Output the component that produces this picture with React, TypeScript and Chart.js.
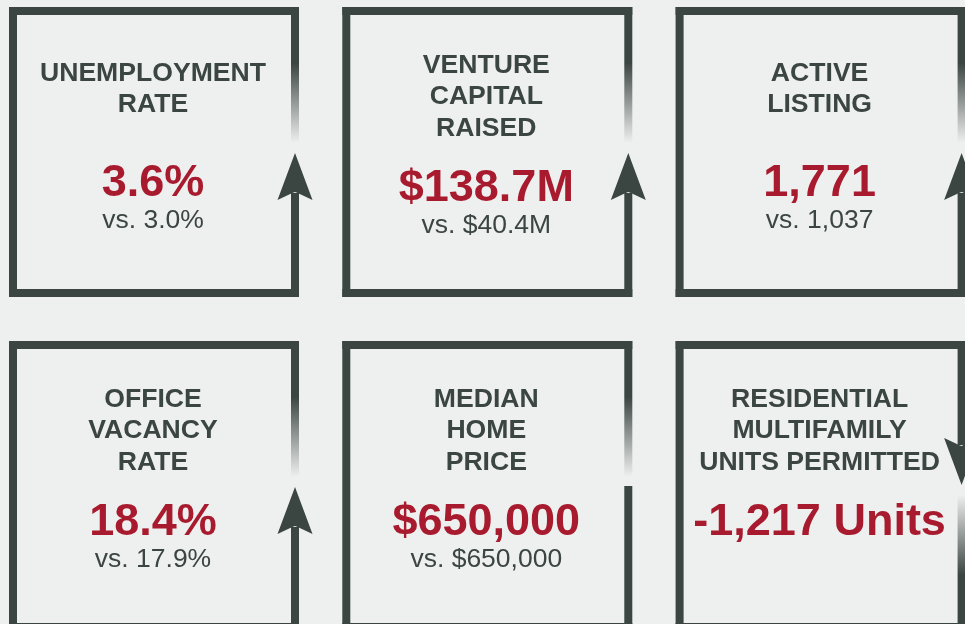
import React, { useEffect, useRef } from "react";
import { Chart, registerables } from "chart.js";

Chart.register(...registerables);

// ---- data ----
const kpiTitles: string[][] = [
  ["UNEMPLOYMENT", "RATE"],
  ["VENTURE", "CAPITAL", "RAISED"],
  ["ACTIVE", "LISTING"],
  ["OFFICE", "VACANCY", "RATE"],
  ["MEDIAN", "HOME", "PRICE"],
  ["RESIDENTIAL", "MULTIFAMILY", "UNITS PERMITTED"],
];
const currentValues: string[] = ["3.6%", "$138.7M", "1,771", "18.4%", "$650,000", "-1,217 Units"];
const priorValues: (string | null)[] = ["3.0%", "$40.4M", "1,037", "17.9%", "$650,000", null];
const trends: string[] = ["up", "up", "up", "up", "flat", "down"];
const gridCols: number[] = [0, 1, 2, 0, 1, 2];
const gridRows: number[] = [0, 0, 0, 1, 1, 1];

const BG = "#eef0ef";
const DARK = "rgb(59,69,66)";
const DARK0 = "rgba(59,69,66,0)";
const RED = "rgb(168,27,46)";
const FONT = '"Liberation Sans", Arial, Helvetica, sans-serif';

const cardPlugin = {
  id: "kpiCards",
  beforeDraw(chart: any) {
    const { ctx, width, height } = chart;
    ctx.save();
    ctx.fillStyle = BG;
    ctx.fillRect(0, 0, width, height);
    ctx.restore();
  },
  afterDatasetsDraw(chart: any) {
    const ctx: CanvasRenderingContext2D = chart.ctx;
    const meta = chart.getDatasetMeta(0);
    const S = 290;
    const B = 8;
    meta.data.forEach((pt: any, i: number) => {
      const cx = pt.x;
      const cy = pt.y;
      const left = cx - S / 2;
      const top = cy - S / 2;
      ctx.save();
      ctx.fillStyle = DARK;
      ctx.fillRect(left, top, B, S);
      ctx.fillRect(left, top, S, B);
      ctx.fillRect(left, top + S - B, S, B);
      const rx = left + S - B;
      const xc = rx + B / 2;
      const trend = trends[i];
      const grad = (y0: number, y1: number) => {
        const g = ctx.createLinearGradient(0, y0, 0, y1);
        g.addColorStop(0, DARK);
        g.addColorStop(1, DARK0);
        return g;
      };
      const head = (tipY: number, baseY: number, notchY: number) => {
        ctx.beginPath();
        ctx.moveTo(xc, tipY);
        ctx.lineTo(xc + 17.5, baseY);
        ctx.quadraticCurveTo(xc + 4, notchY + (baseY - notchY) * 0.2, xc, notchY);
        ctx.quadraticCurveTo(xc - 4, notchY + (baseY - notchY) * 0.2, xc - 17.5, baseY);
        ctx.closePath();
        ctx.fill();
      };
      if (trend === "up" || trend === "flat") {
        ctx.fillRect(rx, top, B, 56);
        ctx.fillStyle = grad(top + 56, top + 136);
        ctx.fillRect(rx, top + 56, B, 80);
        ctx.fillStyle = DARK;
        if (trend === "up") {
          head(top + 146, top + 193, top + 185);
          ctx.fillRect(rx, top + 186, B, S - 186);
        } else {
          ctx.fillRect(rx, top + 145, B, S - 145);
        }
      } else {
        ctx.fillRect(rx, top, B, 104);
        head(top + S - 146, top + S - 193, top + S - 185);
        ctx.fillStyle = grad(top + S - 56, top + S - 136);
        ctx.fillRect(rx, top + S - 136, B, 80);
        ctx.fillStyle = DARK;
        ctx.fillRect(rx, top + S - 56, B, 56);
      }

      const lines = kpiTitles[i];
      const n = lines.length;
      const tx = cx - 1;
      const first = n >= 3 ? 65.7 : 73.5;
      const lh = 31.5;
      const valBase = n >= 3 ? 194 : 189;
      ctx.textAlign = "center";
      ctx.textBaseline = "alphabetic";
      ctx.fillStyle = DARK;
      ctx.font = `bold 26.6px ${FONT}`;
      lines.forEach((l, k) => ctx.fillText(l, tx, top + first + k * lh));
      ctx.fillStyle = RED;
      ctx.font = `bold 45px ${FONT}`;
      ctx.fillText(currentValues[i], tx, top + valBase);
      const pv = priorValues[i];
      if (pv) {
        ctx.fillStyle = DARK;
        ctx.font = `26.5px ${FONT}`;
        ctx.fillText(`vs. ${pv}`, tx, top + valBase + 31.7);
      }
      ctx.restore();
    });
  },
};

export default function App() {
  const ref = useRef<HTMLCanvasElement | null>(null);
  useEffect(() => {
    if (!ref.current) return;
    const xMin = -154 / 333.3;
    const xMax = xMin + 965 / 333.3;
    const yMin = -152 / 334;
    const yMax = yMin + 624 / 334;
    const chart = new Chart(ref.current, {
      type: "scatter",
      data: {
        datasets: [
          {
            data: gridCols.map((c, i) => ({ x: c, y: gridRows[i] })),
            pointRadius: 0,
            pointHoverRadius: 0,
          },
        ],
      },
      options: {
        animation: false,
        responsive: true,
        maintainAspectRatio: false,
        layout: { padding: 0 },
        events: [],
        plugins: { legend: { display: false }, tooltip: { enabled: false } },
        scales: {
          x: { type: "linear", display: false, min: xMin, max: xMax },
          y: { type: "linear", display: false, reverse: true, min: yMin, max: yMax },
        },
      },
      plugins: [cardPlugin],
    });
    return () => chart.destroy();
  }, []);
  return (
    <div style={{ position: "fixed", left: 0, top: 0, width: 965, height: 624, background: BG }}>
      <canvas ref={ref} />
    </div>
  );
}
